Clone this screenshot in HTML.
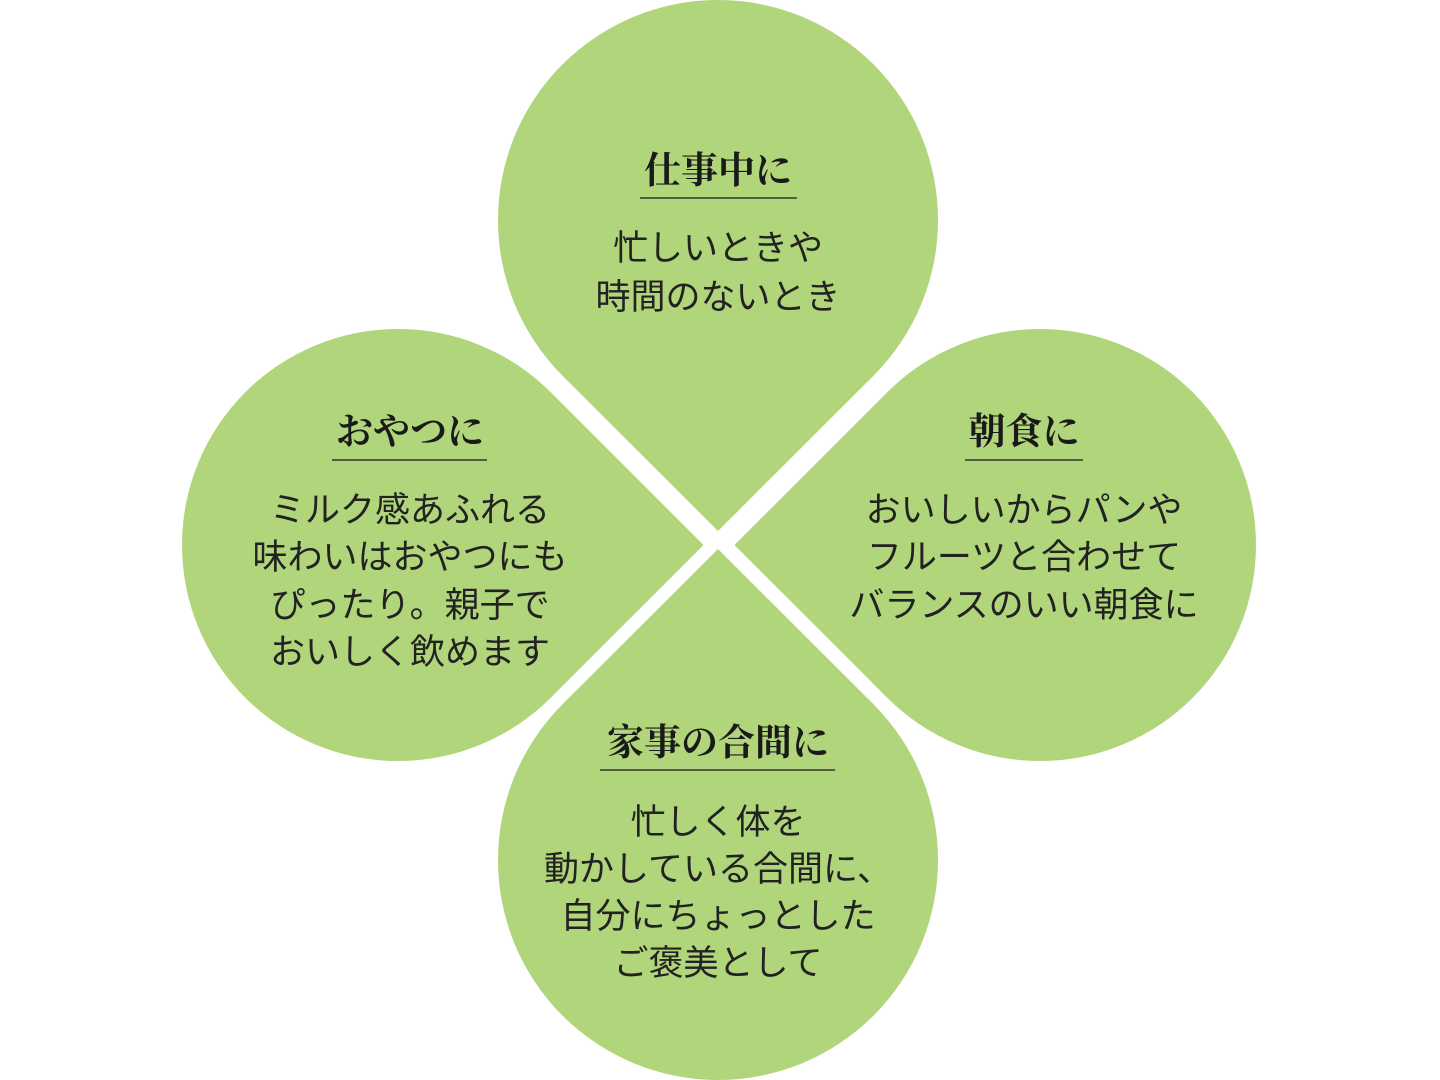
<!DOCTYPE html>
<html><head><meta charset="utf-8"><style>
html,body{margin:0;padding:0;background:#fff;}
svg{display:block;}
.t{font-family:"Liberation Serif","Noto Serif CJK SC",serif;font-weight:bold;font-size:37px;fill:#1a1a1a;text-anchor:middle;}
.b{font-family:"Liberation Sans","Noto Sans CJK JP",sans-serif;font-size:35px;fill:#222;text-anchor:middle;}
.u{stroke:#333;stroke-width:1.6;}
</style></head><body>
<svg width="1440" height="1080" viewBox="0 0 1440 1080" xmlns="http://www.w3.org/2000/svg">
<g fill="#b0d57a">
<circle cx="718" cy="220" r="220"/>
<polygon points="718,531 562.4,375.6 718,220 873.6,375.6"/>
<circle cx="718" cy="860" r="220"/>
<polygon points="718,549 562.4,704.4 718,860 873.6,704.4"/>
<circle cx="398" cy="545" r="216"/>
<polygon points="703.5,545 550.7,392.3 398,545 550.7,697.7"/>
<circle cx="1040" cy="545" r="216"/>
<polygon points="734.5,545 887.3,392.3 1040,545 887.3,697.7"/>
</g>
<text class="t" x="718" y="183">仕事中に</text>
<line class="u" x1="640" y1="198" x2="797" y2="198"/>
<text class="b" x="718" y="260">忙しいときや</text>
<text class="b" x="718" y="309">時間のないとき</text>

<text class="t" x="410" y="444">おやつに</text>
<line class="u" x1="332" y1="460" x2="487" y2="460"/>
<text class="b" x="410" y="522">ミルク感あふれる</text>
<text class="b" x="410" y="569">味わいはおやつにも</text>
<text class="b" x="410" y="617">ぴったり。親子で</text>
<text class="b" x="410" y="664">おいしく飲めます</text>

<text class="t" x="1024" y="444">朝食に</text>
<line class="u" x1="965" y1="460" x2="1083" y2="460"/>
<text class="b" x="1024" y="522">おいしいからパンや</text>
<text class="b" x="1024" y="569">フルーツと合わせて</text>
<text class="b" x="1024" y="617">バランスのいい朝食に</text>

<text class="t" x="718" y="755">家事の合間に</text>
<line class="u" x1="600" y1="770" x2="835" y2="770"/>
<text class="b" x="718" y="834">忙しく体を</text>
<text class="b" x="718" y="881">動かしている合間に、</text>
<text class="b" x="718" y="928">自分にちょっとした</text>
<text class="b" x="718" y="975">ご褒美として</text>
</svg>
</body></html>
